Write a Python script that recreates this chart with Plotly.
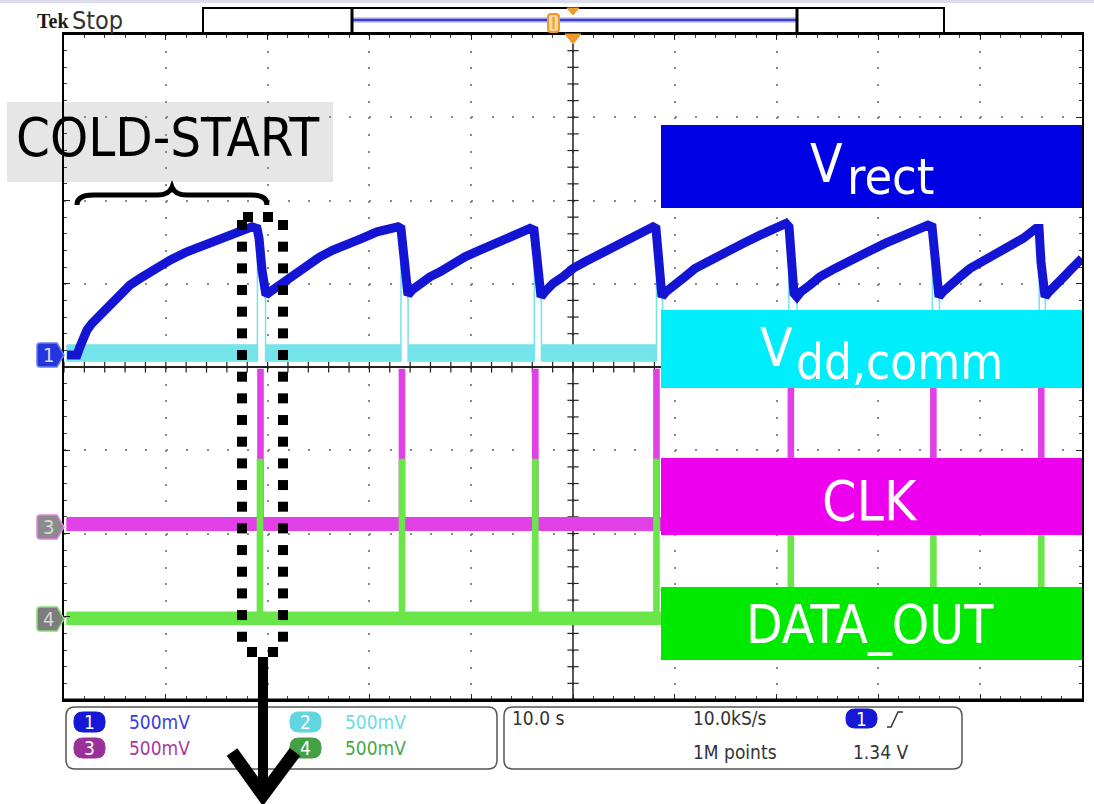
import plotly.graph_objects as go

W, H = 1094, 804
# graticule area in pixels (10 x 8 divisions)
GX0, GX1, GY0, GY1 = 64, 1082, 34, 700

# ---------------- acquisition data ----------------
# time in s (10 s/div), voltages in V (500 mV/div)
vrect_t = [0.3, 1.28, 1.57, 1.87, 2.26, 2.75, 3.24, 4.03, 4.81, 5.70, 6.48, 7.47, 8.45, 9.43,
           10.41, 12.08, 14.05, 15.62, 17.29, 18.47,
           18.96, 19.16, 19.45, 19.65,
           19.84, 20.24, 20.92, 21.91, 22.89, 23.97, 25.15, 26.42, 27.80, 29.27, 30.75, 32.02, 32.81,
           33.10, 33.40, 33.60,
           33.79, 34.18, 34.97, 35.95, 36.94, 38.11, 39.39, 40.86, 42.34, 43.81, 45.78,
           46.17, 46.46, 46.66,
           46.86, 47.25, 48.04, 49.02, 50.00, 51.18, 52.46, 53.83, 55.21, 56.58, 57.86,
           58.15, 58.35, 58.55,
           58.74, 59.14, 60.02, 61.00, 61.98, 63.46, 65.13, 66.70, 68.37, 69.84, 70.92,
           71.22, 71.51, 71.71,
           72.00, 72.40, 73.28, 74.26, 75.74, 77.21, 78.98, 80.65, 82.12, 83.60, 84.87,
           85.27, 85.56, 85.76,
           85.95, 86.35, 87.03, 88.02, 89.00, 90.18, 91.45, 92.93, 94.20, 95.48,
           95.78, 95.97, 96.17,
           96.37, 96.76, 97.45, 98.23, 99.02, 100.0]
vrect_v = [0.00, 0.00, 0.05, 0.10, 0.15, 0.19, 0.22, 0.28, 0.33, 0.38, 0.42, 0.46, 0.50, 0.54,
           0.57, 0.62, 0.67, 0.71, 0.75, 0.77,
           0.76, 0.70, 0.51, 0.37,
           0.36, 0.38, 0.41, 0.46, 0.50, 0.55, 0.59, 0.63, 0.67, 0.70, 0.74, 0.76, 0.77,
           0.76, 0.56, 0.38,
           0.36, 0.39, 0.43, 0.47, 0.50, 0.55, 0.59, 0.63, 0.67, 0.71, 0.76,
           0.75, 0.54, 0.37,
           0.35, 0.38, 0.43, 0.47, 0.52, 0.56, 0.60, 0.64, 0.69, 0.73, 0.77,
           0.76, 0.56, 0.37,
           0.35, 0.38, 0.43, 0.47, 0.52, 0.57, 0.62, 0.67, 0.72, 0.76, 0.79,
           0.77, 0.56, 0.37,
           0.35, 0.38, 0.42, 0.47, 0.52, 0.57, 0.62, 0.67, 0.71, 0.74, 0.78,
           0.77, 0.56, 0.37,
           0.35, 0.38, 0.41, 0.47, 0.52, 0.56, 0.61, 0.65, 0.70, 0.76,
           0.76, 0.56, 0.37,
           0.35, 0.38, 0.43, 0.47, 0.52, 0.58]

# Vdd,comm: noise floor plus a pulse that tracks Vrect during each discharge
vdd_noise_lo, vdd_noise_hi = -0.036, 0.06
vdd_pulse_start = [19.0, 33.1, 46.2, 58.2, 71.2, 85.3, 95.8]
vdd_pulse_end = [19.8, 33.8, 46.9, 58.8, 72.0, 86.0, 96.4]
vdd_pulse_top = [0.76, 0.76, 0.75, 0.76, 0.77, 0.77, 0.76]
vdd_pulse_bottom = [0.36, 0.36, 0.35, 0.35, 0.35, 0.35, 0.35]

# CLK and DATA_OUT pulses
clk_noise_lo, clk_noise_hi = -0.025, 0.05
clk_pulse_t = [19.3, 33.2, 46.3, 58.2, 71.4, 85.4, 96.0]
clk_pulse_v = [0.94, 0.94, 0.94, 0.94, 0.94, 0.94, 0.94]
data_noise_lo, data_noise_hi = -0.03, 0.042
data_pulse_t = [19.25, 33.2, 46.3, 58.2, 71.4, 85.4, 96.0]
data_pulse_v = [0.96, 0.96, 0.96, 0.96, 0.96, 0.96, 0.96]
pulse_width = 0.5  # s

t_start, t_end = 0.3, 100.0
volts_per_div = 0.5
# channel ground positions, in divisions from screen centre
ch_offset = {1: 0.144, 2: 0.144, 3: -1.91, 4: -3.03}

C_BLUE = "#1414d4"
C_CYAN = "#74e3ea"
C_MAG = "#e040e6"
C_GRN = "#6ae64a"

LABEL_FONT = "DejaVu Sans Condensed, DejaVu Sans, sans-serif"
COND = "DejaVu Sans Condensed, DejaVu Sans, sans-serif"


def to_div(ch, v):
    return ch_offset[ch] + v / volts_per_div


def band_polygon(ch, lo, hi, starts, ends, tops, bottoms, gap):
    """Closed outline of a noisy trace: flat noise band with raised segments."""
    up_x, up_y = [t_start], [hi]
    for s, e, a, b in zip(starts, ends, tops, bottoms):
        up_x += [s, s, e, e]
        up_y += [hi, a, b, hi]
    up_x.append(t_end)
    up_y.append(hi)
    dn_x, dn_y = [t_end], [lo]
    for s, e, a, b in reversed(list(zip(starts, ends, tops, bottoms))):
        if gap:
            dn_x += [e, e, s, s]
            dn_y += [lo, b - 0.04, a - 0.04, lo]
    dn_x.append(t_start)
    dn_y.append(lo)
    xs = up_x + dn_x + [up_x[0]]
    ys = [to_div(ch, v) for v in up_y + dn_y + [up_y[0]]]
    return xs, ys


fig = go.Figure()

# graticule ticks along the centre lines
fig.add_trace(go.Scatter(x=[2 * k for k in range(51)], y=[0] * 51, mode="markers",
                         marker=dict(symbol="line-ns", size=8, line=dict(width=1.2, color="#222")),
                         hoverinfo="skip"))
fig.add_trace(go.Scatter(x=[50] * 41, y=[-4 + 0.2 * k for k in range(41)], mode="markers",
                         marker=dict(symbol="line-ew", size=8, line=dict(width=1.2, color="#222")),
                         hoverinfo="skip"))

# channel 2: Vdd,comm
x2, y2 = band_polygon(2, vdd_noise_lo, vdd_noise_hi, vdd_pulse_start, vdd_pulse_end,
                      vdd_pulse_top, vdd_pulse_bottom, gap=True)
fig.add_trace(go.Scatter(x=x2, y=y2, mode="lines", fill="toself", fillcolor=C_CYAN,
                         line=dict(color=C_CYAN, width=1.5), hoverinfo="skip"))

# channel 1: Vrect
fig.add_trace(go.Scatter(x=vrect_t, y=[to_div(1, v) for v in vrect_v], mode="lines",
                         line=dict(color=C_BLUE, width=9), hoverinfo="skip"))

# channel 3: CLK
cs = [t - pulse_width / 2 for t in clk_pulse_t]
ce = [t + pulse_width / 2 for t in clk_pulse_t]
x3, y3 = band_polygon(3, clk_noise_lo, clk_noise_hi, cs, ce, clk_pulse_v, clk_pulse_v, gap=False)
fig.add_trace(go.Scatter(x=x3, y=y3, mode="lines", fill="toself", fillcolor=C_MAG,
                         line=dict(color=C_MAG, width=1.5), hoverinfo="skip"))

# channel 4: DATA_OUT
ds = [t - pulse_width / 2 for t in data_pulse_t]
de = [t + pulse_width / 2 for t in data_pulse_t]
x4, y4 = band_polygon(4, data_noise_lo, data_noise_hi, ds, de, data_pulse_v, data_pulse_v, gap=False)
fig.add_trace(go.Scatter(x=x4, y=y4, mode="lines", fill="toself", fillcolor=C_GRN,
                         line=dict(color=C_GRN, width=1.5), hoverinfo="skip"))


# ---------------- screen decorations (pixel based) ----------------
def fx(px):
    return px / W


def fy(py):
    return 1 - py / H


def path(cmds):
    out = []
    for c in cmds:
        if isinstance(c, str):
            out.append(c)
        else:
            out.append(f"{fx(c[0]):.5f},{fy(c[1]):.5f}")
    return " ".join(out)


def rounded(x0, y0, x1, y1, r):
    return path(["M", (x0 + r, y0), "L", (x1 - r, y0), "Q", (x1, y0), (x1, y0 + r),
                 "L", (x1, y1 - r), "Q", (x1, y1), (x1 - r, y1),
                 "L", (x0 + r, y1), "Q", (x0, y1), (x0, y1 - r),
                 "L", (x0, y0 + r), "Q", (x0, y0), (x0 + r, y0), "Z"])


shapes = []


def rect(x0, y0, x1, y1, fill, line=None, lw=0, layer="above"):
    shapes.append(dict(type="rect", xref="paper", yref="paper", x0=fx(x0), x1=fx(x1),
                       y0=fy(y1), y1=fy(y0), fillcolor=fill, layer=layer,
                       line=dict(color=line or fill, width=lw)))


def pshape(d, fill=None, line="black", lw=1, layer="above"):
    shapes.append(dict(type="path", xref="paper", yref="paper", path=d, layer=layer,
                       fillcolor=fill if fill else "rgba(0,0,0,0)",
                       line=dict(color=line, width=lw)))


def seg(x0, y0, x1, y1, color, lw, layer="above"):
    shapes.append(dict(type="line", xref="paper", yref="paper", x0=fx(x0), x1=fx(x1),
                       y0=fy(y0), y1=fy(y1), layer=layer, line=dict(color=color, width=lw)))


annotations = []


def text(s, px, py, size, color, family=LABEL_FONT, xanchor="left", yanchor="middle"):
    annotations.append(dict(text=s, x=fx(px), y=fy(py), xref="paper", yref="paper",
                            xanchor=xanchor, yanchor=yanchor, showarrow=False,
                            font=dict(size=size, color=color, family=family)))


# window top strip
seg(0, 1.5, W, 1.5, "#dcdcee", 3)
# centre vertical graticule line
shapes.append(dict(type="line", xref="x", yref="y", x0=50, x1=50, y0=-4, y1=4,
                   layer="between", line=dict(color="#222", width=1.5)))
seg(GX0, GY0, GX1, GY0, "black", 2)
seg(GX0, GY1, GX1, GY1, "black", 3)

# record view bar
rect(203, 8, 944, 33, "white", "black", 2)
seg(352, 20, 797, 20, "#c9c9f2", 6)
seg(352, 20, 797, 20, "#3a3ad6", 2.5)
seg(352, 8, 352, 33, "black", 3)
seg(797, 8, 797, 33, "black", 3)
pshape(rounded(548, 14, 559, 32, 3), fill="#fbd7a0", line="#ee9a2a", lw=2)
seg(553.5, 17, 553.5, 29, "#ee9a2a", 2)
pshape(path(["M", (567, 8), "L", (579, 8), "L", (573, 15), "Z"]), fill="#ee9a2a", line="#ee9a2a", lw=1)
pshape(path(["M", (565, 34), "L", (581, 34), "L", (573, 44), "Z"]), fill="#ee9a2a", line="#ee9a2a", lw=1)
text("<b>Tek</b>", 35, 21, 20, "#1a1a1a", "Liberation Serif, DejaVu Serif, serif")
text("Stop", 70, 20, 25, "#333333", COND)

# channel ground markers
for ch, py, fill, edge, fg in [(1, 355, "#2336de", "#6f7cf0", "#d8dcff"),
                                (3, 527, "#8b8b8b", "#e77ee7", "#d9d9d9"),
                                (4, 619, "#7d7d7d", "#80e070", "#d9d9d9")]:
    pshape(path(["M", (40, py - 12), "L", (57, py - 12), "L", (64, py), "L", (57, py + 12),
                 "L", (40, py + 12), "Q", (37, py + 12), (37, py + 9), "L", (37, py - 9),
                 "Q", (37, py - 12), (40, py - 12), "Z"]), fill=fill, line=edge, lw=1.5)
    text(str(ch), 48, py, 20, fg, COND, xanchor="center")

# COLD-START caption and brace
rect(7, 102, 333, 182, "#e6e6e6", layer="below")
text("COLD-START", 168, 138, 54, "black", xanchor="center")
pshape(path(["M", (77, 205), "Q", (77, 195), (93, 195), "L", (157, 195),
             "Q", (169, 195), (172, 187), "Q", (175, 195), (187, 195),
             "L", (251, 195), "Q", (267, 195), (267, 205)]), line="black", lw=5)

# dotted outline around the first wake-up event
for px, py in [(248, 217), (268, 217), (252, 652), (273, 652)]:
    rect(px - 5, py - 5, px + 5, py + 5, "black")
for k in range(20):
    py = 225 + 21.67 * k
    rect(237, py - 5, 247, py + 5, "black")
    rect(278, py - 5, 288, py + 5, "black")

# signal name boxes
rect(661, 125, GX1, 208, "#0000e4")
text("V", 808, 164, 53, "white")
text("rect", 845, 177, 50, "white")
rect(661, 310, GX1, 388, "#00eefc")
text("V", 758, 347, 53, "white")
text("dd,comm", 794, 362, 49, "white")
rect(661, 458, GX1, 535, "#ee00ee")
text("CLK", 870, 501, 55, "white", xanchor="center")
rect(661, 587, GX1, 660, "#00ea00")
text("DATA_OUT", 870, 625, 53, "white", xanchor="center")

# readout panel
pshape(rounded(66, 707, 497, 769, 9), line="#555", lw=1.5)
pshape(rounded(504, 707, 962, 769, 9), line="#555", lw=1.5)
for ch, bx, by, fill, tcol in [(1, 74, 722, "#1717d8", "#3c3ce0"),
                                (3, 74, 748, "#9a309a", "#a53aa5"),
                                (2, 290, 722, "#62d6e0", "#6fdbe6"),
                                (4, 290, 748, "#43a043", "#48a848")]:
    pshape(rounded(bx, by - 10, bx + 31, by + 10, 9), fill=fill, line=fill, lw=1)
    text(str(ch), bx + 15.5, by, 19, "white", COND, xanchor="center")
    text("500mV", bx + 53, by, 19, tcol, COND)
text("10.0 s", 510, 718, 19, "#333", COND)
text("10.0kS/s", 691, 718, 19, "#333", COND)
text("1M points", 691, 752, 19, "#333", COND)
pshape(rounded(846, 709, 877, 728, 9), fill="#1717d8", line="#1717d8", lw=1)
text("1", 861.5, 718.5, 19, "white", COND, xanchor="center")
pshape(path(["M", (887, 727), "L", (891, 727), "L", (898, 712), "L", (903, 712)]), line="#333", lw=1.5)
text("1.34 V", 851, 752, 19, "#333", COND)

# arrow below the outline
seg(263, 657, 263, 795, "black", 10)
pshape(path(["M", (232, 752), "L", (263, 795), "L", (295, 752)]), line="black", lw=13)

fig.update_layout(
    width=W, height=H, margin=dict(l=0, r=0, t=0, b=0),
    paper_bgcolor="white", plot_bgcolor="white", showlegend=False,
    shapes=shapes, annotations=annotations,
    xaxis=dict(domain=[GX0 / W, GX1 / W], range=[0, 100], dtick=10, tick0=0,
               showgrid=True, gridcolor="#8a8a8a", gridwidth=2, griddash="2px,14.65px",
               zeroline=False, showline=True, linecolor="black", linewidth=1.5,
               mirror="allticks", ticks="inside", ticklen=6, tickcolor="#222",
               showticklabels=False, fixedrange=True,
               minor=dict(dtick=2, ticks="inside", ticklen=4, tickcolor="#444", showgrid=False)),
    yaxis=dict(domain=[1 - GY1 / H, 1 - GY0 / H], range=[-4, 4], dtick=1, tick0=0,
               showgrid=True, gridcolor="#8a8a8a", gridwidth=2, griddash="2px,18.36px",
               zeroline=True, zerolinecolor="#222", zerolinewidth=1.5,
               showline=True, linecolor="black", linewidth=1.5,
               mirror="allticks", ticks="inside", ticklen=6, tickcolor="#222",
               showticklabels=False, fixedrange=True,
               minor=dict(dtick=0.2, ticks="inside", ticklen=3, tickcolor="#444", showgrid=False)),
)

fig.write_html("out.html")
